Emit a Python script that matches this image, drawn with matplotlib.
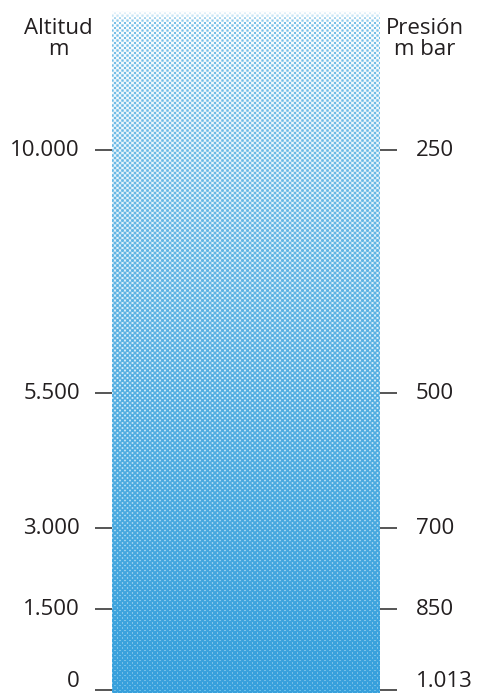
import numpy as np
import matplotlib.pyplot as plt
from matplotlib.transforms import ScaledTranslation

altitudes = [0, 1500, 3000, 5500, 10000]
alt_labels = ["0", "1.500", "3.000", "5.500", "10.000"]
pressure_labels = ["1.013", "850", "700", "500", "250"]

plt.rcParams["font.family"] = ["Open Sans", "DejaVu Sans"]

W, H = 478, 693
fig = plt.figure(figsize=(W / 100, H / 100), dpi=100)
x0, x1, ytop = 112, 380, 10
ax = fig.add_axes([x0 / W, 0, (x1 - x0) / W, (H - ytop) / H])

ymin, ymax = -55, 12590

# halftone texture: light dots at the top, dense blue at the bottom
nh, nw = H - ytop, x1 - x0
yy, xx = np.mgrid[0:nh, 0:nw].astype(float)
t = yy / (nh - 1)
p = 5.0
f = (np.cos(2 * np.pi * (xx + yy) / p) + np.cos(2 * np.pi * (xx - yy) / p)) / 4 + 0.5
cov = 0.4 + 0.5 * t
ink_mask = np.clip((f - (1 - cov)) * 2.2 + 0.5, 0, 1)
ink = np.stack([120 - 65 * t, 192 - 32 * t, 232 - 12 * t], -1) / 255
paper = np.stack([255 - 90 * t, 255 - 40 * t, 255 - 15 * t], -1) / 255
img = paper * (1 - ink_mask[..., None]) + ink * ink_mask[..., None]
fade = np.clip(yy / 12, 0, 1)[..., None]
img = 1 - (1 - img) * fade
ax.imshow(img, extent=[0, 1, ymin, ymax], aspect="auto", interpolation="nearest", origin="upper")

ax.set_xlim(0, 1)
ax.set_ylim(ymin, ymax)
for s in ax.spines.values():
    s.set_visible(False)
ax.set_xticks([])

ax.set_yticks(altitudes)
ax.set_yticklabels(alt_labels)
ax.tick_params(axis="y", which="both", left=True, right=True, labelleft=True,
               labelright=False, length=12, width=1.4, color="#555555",
               direction="out", labelsize=16, labelcolor="#231f20", pad=11)

ax2 = ax.twinx()
ax2.set_ylim(ymin, ymax)
for s in ax2.spines.values():
    s.set_visible(False)
ax2.set_yticks(altitudes)
ax2.set_yticklabels(pressure_labels)
ax2.tick_params(axis="y", length=12, width=1.4, color="#555555", direction="out",
                labelsize=16, labelcolor="#231f20", pad=14)

# lift the labels a little, the bottom pair more so they stay inside
for a in (ax, ax2):
    for i, lab in enumerate(a.get_yticklabels()):
        up = 11 if i == 0 else 2
        lab.set_transform(lab.get_transform() + ScaledTranslation(0, up / 100, fig.dpi_scale_trans))

fig.text(58 / W, 1 - 39 / H, "Altitud\nm", ha="center", va="center", fontsize=16,
         color="#231f20", linespacing=1.0)
fig.text(425 / W, 1 - 39 / H, "Presión\nm bar", ha="center", va="center", fontsize=16,
         color="#231f20", linespacing=1.0)

fig.savefig("out.png", dpi=100)
